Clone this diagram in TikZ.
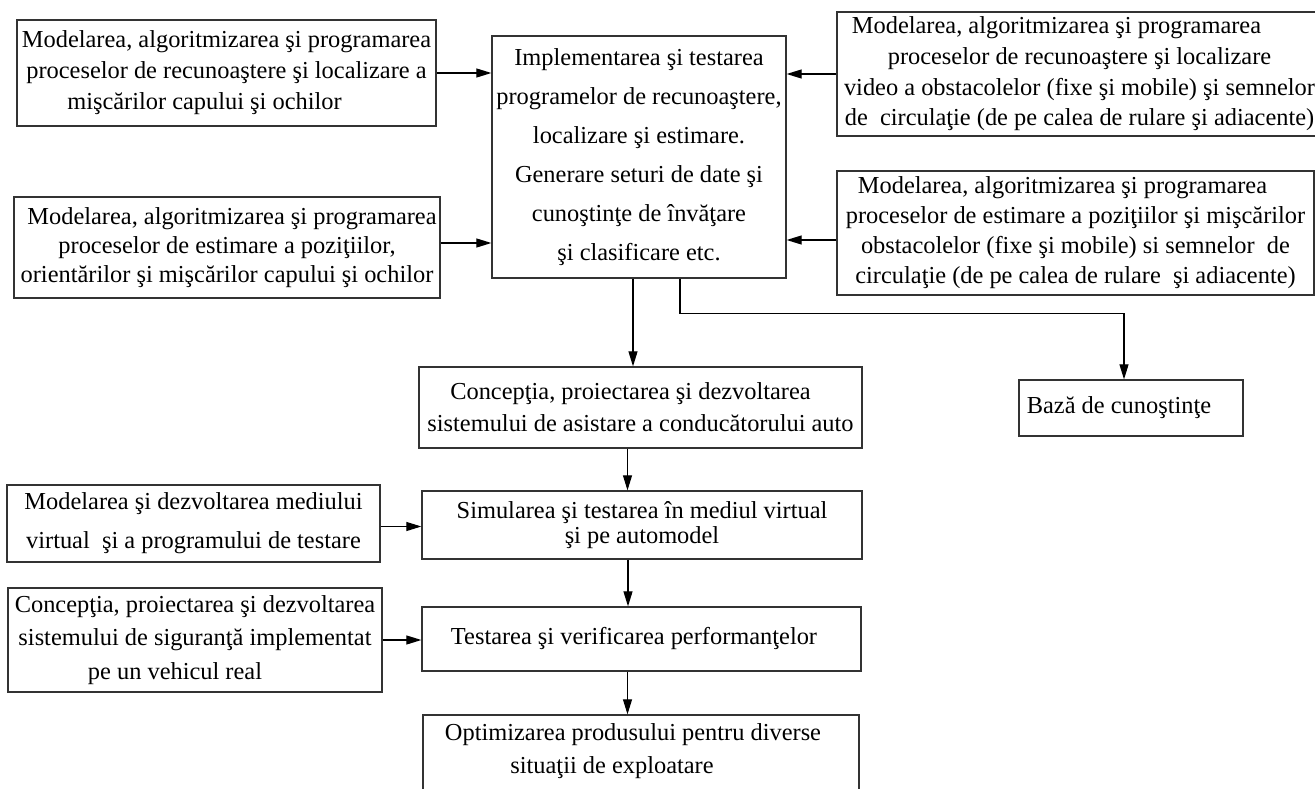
\documentclass[tikz,border=0pt]{standalone}
\usepackage{fontspec}
\setmainfont{Liberation Serif}
\usetikzlibrary{arrows.meta}

\begin{document}
\begin{tikzpicture}[x=1pt,y=-1pt,
  box/.style={draw=black!80, line width=1.3pt, inner sep=0pt, align=center,
              font=\fontsize{24.4}{#1}\selectfont},
  box/.default=30,
  lbl/.style={inner sep=0pt, align=center, font=\fontsize{24.4}{#1}\selectfont},
  lbl/.default=30,
  arr/.style={draw=black, line width=1.1pt, -{Triangle[length=15pt,width=9pt]}},
]
\clip (0,0) rectangle (1315,789);

% input processes on the left
\node[box=31, minimum width=419pt, minimum height=106pt] (A) at (226.5,73)
  {Modelarea, algoritmizarea şi programarea\\
   proceselor de recunoaştere şi localizare a\\
   mişcărilor capului şi ochilor\hspace*{44pt}};
\node[box=29, minimum width=426pt, minimum height=101pt] (E) at (227,247.5)
  {\hspace*{10pt}Modelarea, algoritmizarea şi programarea\\
   proceselor de estimare a poziţiilor,\hspace*{30pt}\\
   orientărilor şi mişcărilor capului şi ochilor};

% central implementation block
\node[box=39, minimum width=294pt, minimum height=242pt] (B) at (639,157)
  {Implementarea şi testarea\\
   programelor de recunoaştere,\\
   localizare şi estimare.\\
   Generare seturi de date şi\\
   cunoştinţe de învăţare\\
   şi clasificare etc.};

% input processes on the right
\node[box=30.7, minimum width=485pt, minimum height=124pt] (C) at (1079.5,74)
  {Modelarea, algoritmizarea şi programarea\hspace*{46pt}\\
   proceselor de recunoaştere şi localizare\hspace*{46pt}\\
   video a obstacolelor (fixe şi mobile) şi semnelor\hspace*{6pt}\\
   de~ circulaţie (de pe calea de rulare şi adiacente)};
\node[box=30, minimum width=477pt, minimum height=124pt] (D) at (1075.5,233)
  {Modelarea, algoritmizarea şi programarea\hspace*{26pt}\\
   proceselor de estimare a poziţiilor şi mişcărilor\\
   obstacolelor (fixe şi mobile) si semnelor~ de\hspace*{16pt}\\
   circulaţie (de pe calea de rulare~ şi adiacente)};

% design chain
\node[box=32, minimum width=443pt, minimum height=81pt] (F) at (640.5,407.5)
  {Concepţia, proiectarea şi dezvoltarea\hspace*{20pt}\\
   sistemului de asistare a conducătorului auto};
\node[box, minimum width=224pt, minimum height=56pt] (G) at (1131,408)
  {Bază de cunoştinţe\hspace*{24pt}};

\node[box=39, minimum width=373pt, minimum height=77pt] (H) at (193.5,523.5)
  {Modelarea şi dezvoltarea mediului\\
   virtual~ şi a programului de testare};
\node[box=25, minimum width=440pt, minimum height=68pt] (I) at (642,525)
  {Simularea şi testarea în mediul virtual\\
   şi pe automodel};

\node[box=33.5, minimum width=374pt, minimum height=104pt] (J) at (195,640)
  {Concepţia, proiectarea şi dezvoltarea\\
   sistemului de siguranţă implementat\\
   pe un vehicul real\hspace*{40pt}};
\node[box, minimum width=439pt, minimum height=64pt] (K) at (641.5,639)
  {Testarea şi verificarea performanţelor\hspace*{15pt}};

\node[box, minimum width=436pt, minimum height=95pt] (L) at (641,762.5) {};
\node[lbl=33] (Lt) at (633,751.5)
  {Optimizarea produsului pentru diverse\\
   situaţii de exploatare\hspace*{42pt}};

% connectors
\draw[arr] (A.east) -- (A.east -| B.west);
\draw[arr] ([yshift=4.5pt]E.east) -- ([yshift=4.5pt]E.east -| B.west);
\draw[arr] (C.west) -- (C.west -| B.east);
\draw[arr] ([yshift=-7pt]D.west) -- ([yshift=-7pt]D.west -| B.east);
\draw[arr] ([xshift=-6pt]B.south) -- ([xshift=-6pt]B.south |- F.north);
\draw[arr] ([xshift=41pt]B.south) -- ++(0,35) -| ([xshift=-7pt]G.north);
\draw[arr] ([xshift=-13pt]F.south) -- ([xshift=-13pt]F.south |- I.north);
\draw[arr] ([yshift=-3pt]H.east) -- ([yshift=-3pt]H.east -| I.west);
\draw[arr] ([xshift=-14pt]I.south) -- ([xshift=-14pt]I.south |- K.north);
\draw[arr] (J.east) -- (J.east -| K.west);
\draw[arr] ([xshift=-14pt]K.south) -- ([xshift=-14pt]K.south |- L.north);
\end{tikzpicture}
\end{document}
